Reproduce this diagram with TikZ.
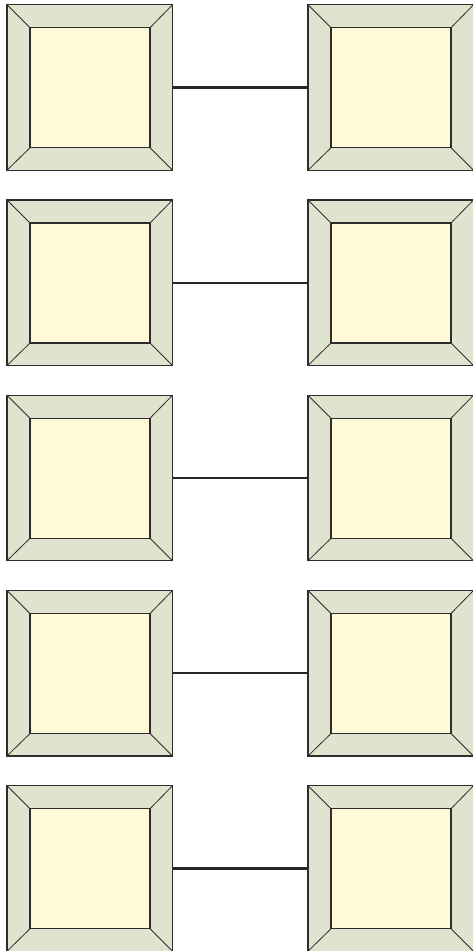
\documentclass[tikz,border=0pt]{standalone}
\usepackage{tikz}

\definecolor{cadre}{RGB}{224,227,206}
\definecolor{centre}{RGB}{255,249,215}
\definecolor{trait}{RGB}{45,45,45}

\tikzset{
  bloc/.style={draw=trait, fill=cadre, line width=1.1pt, minimum size=165.5pt,
    inner sep=0pt, outer sep=0pt,
    path picture={
      \coordinate (no) at (path picture bounding box.north west);
      \coordinate (se) at (path picture bounding box.south east);
      \coordinate (ne) at (path picture bounding box.north east);
      \coordinate (so) at (path picture bounding box.south west);
      \draw[trait, line width=0.8pt] (no) -- ++(23pt,-23pt) (ne) -- ++(-22.5pt,-23pt)
        (so) -- ++(23pt,22.5pt) (se) -- ++(-22.5pt,22.5pt);
      \draw[trait, fill=centre, line width=1.1pt] ([shift={(23pt,-23pt)}]no) rectangle ([shift={(-22.5pt,22.5pt)}]se);
    }},
  lien/.style={draw=black!85, line width=2.3pt}
}

\begin{document}
\begin{tikzpicture}[x=1pt, y=-1pt]
    \useasboundingbox (0,0) rectangle (472,951);

    % Colonne de gauche
    \node[bloc] (g1) at (89.75,87.5) {};
    \node[bloc] (g2) at (89.75,282.75) {};
    \node[bloc] (g3) at (89.75,478) {};
    \node[bloc] (g4) at (89.75,673.25) {};
    \node[bloc] (g5) at (89.75,868.5) {};

    % Colonne de droite
    \node[bloc] (d1) at (390.75,87.5) {};
    \node[bloc] (d2) at (390.75,282.75) {};
    \node[bloc] (d3) at (390.75,478) {};
    \node[bloc] (d4) at (390.75,673.25) {};
    \node[bloc] (d5) at (390.75,868.5) {};

    % Liaisons
    \draw[lien] (g1) -- (d1);
    \draw[lien] (g2) -- (d2);
    \draw[lien] (g3) -- (d3);
    \draw[lien] (g4) -- (d4);
    \draw[lien] (g5) -- (d5);
\end{tikzpicture}
\end{document}
